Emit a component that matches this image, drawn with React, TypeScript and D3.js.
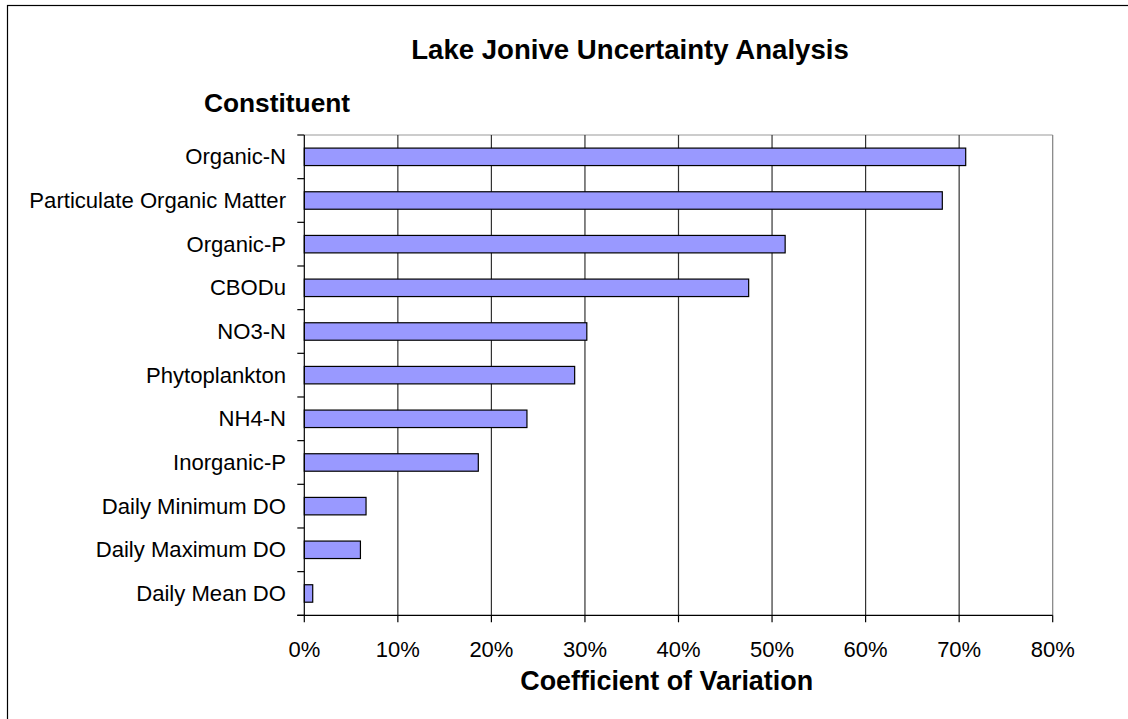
import React from "react";
import * as d3 from "d3";

const categories = [
  "Organic-N",
  "Particulate Organic Matter",
  "Organic-P",
  "CBODu",
  "NO3-N",
  "Phytoplankton",
  "NH4-N",
  "Inorganic-P",
  "Daily Minimum DO",
  "Daily Maximum DO",
  "Daily Mean DO",
];
const values = [0.707, 0.682, 0.514, 0.475, 0.302, 0.289, 0.238, 0.186, 0.066, 0.06, 0.009];
const xTicks = [0, 0.1, 0.2, 0.3, 0.4, 0.5, 0.6, 0.7, 0.8];

const FONT = "Arial, 'Liberation Sans', sans-serif";

export default function App() {
  const W = 1128;
  const H = 719;
  const left = 304.3;
  const right = 1052.7;
  const top = 135;
  const bottom = 615.3;

  const x = d3.scaleLinear().domain([0, 0.8]).range([left, right]);
  const y = d3
    .scaleBand<string>()
    .domain(categories)
    .range([top, bottom])
    .paddingInner(0.6)
    .paddingOuter(0.3);
  const step = y.step();
  const fmt = d3.format(".0%");

  return (
    <svg
      width={W}
      height={H}
      style={{ position: "absolute", left: 0, top: 0, background: "#fff" }}
      fontFamily={FONT}
    >
      <rect x={0} y={0} width={W} height={H} fill="#fff" />
      <rect x={7.5} y={5.5} width={1300} height={900} fill="none" stroke="#000" strokeWidth={1.2} />

      {/* title */}
      <text x={630} y={59} textAnchor="middle" fontSize={27.6} fontWeight="bold" fill="#000">
        Lake Jonive Uncertainty Analysis
      </text>
      <text x={204} y={111.5} fontSize={26.3} fontWeight="bold" fill="#000">
        Constituent
      </text>

      {/* plot frame top/right */}
      <line x1={left} x2={right} y1={top} y2={top} stroke="#999" strokeWidth={1} />
      <line x1={right} x2={right} y1={top} y2={bottom} stroke="#808080" strokeWidth={1.2} />

      {/* gridlines */}
      {xTicks.slice(1, -1).map((t) => (
        <line key={"g" + t} x1={x(t)} x2={x(t)} y1={top} y2={bottom} stroke="#333" strokeWidth={1.2} />
      ))}

      {/* bars */}
      {categories.map((c, i) => (
        <rect
          key={c}
          x={x(0)}
          y={y(c)!}
          width={x(values[i]) - x(0)}
          height={y.bandwidth()}
          fill="#9999FF"
          stroke="#000"
          strokeWidth={1.2}
        />
      ))}

      {/* y axis */}
      <line x1={left} x2={left} y1={top} y2={bottom} stroke="#000" strokeWidth={1.2} />
      {d3.range(categories.length + 1).map((i) => (
        <line
          key={"yt" + i}
          x1={left - 7}
          x2={left}
          y1={top + i * step}
          y2={top + i * step}
          stroke="#000"
          strokeWidth={1.2}
        />
      ))}
      {categories.map((c) => (
        <text
          key={"yl" + c}
          x={286}
          y={y(c)! + y.bandwidth() / 2 + 7.6}
          textAnchor="end"
          fontSize={22.1}
          fill="#000"
        >
          {c}
        </text>
      ))}

      {/* x axis */}
      <line x1={left - 7} x2={right} y1={bottom} y2={bottom} stroke="#000" strokeWidth={1.2} />
      {xTicks.map((t) => (
        <g key={"xt" + t}>
          <line x1={x(t)} x2={x(t)} y1={bottom} y2={bottom + 7} stroke="#000" strokeWidth={1.2} />
          <text x={x(t)} y={656.7} textAnchor="middle" fontSize={22} fill="#000">
            {fmt(t)}
          </text>
        </g>
      ))}
      <text x={666.7} y={690} textAnchor="middle" fontSize={26.9} fontWeight="bold" fill="#000">
        Coefficient of Variation
      </text>
    </svg>
  );
}
